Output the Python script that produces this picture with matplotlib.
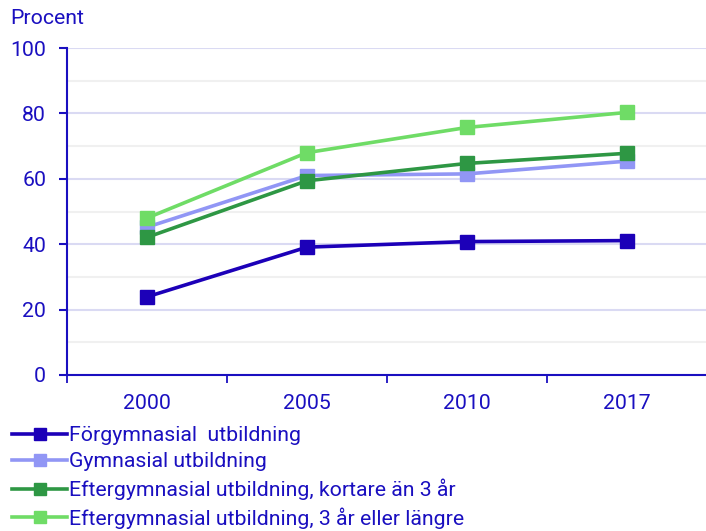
import matplotlib
matplotlib.use("Agg")
import matplotlib.pyplot as plt
from matplotlib.ticker import MultipleLocator, FixedLocator

plt.rcParams['font.family'] = ['Roboto', 'DejaVu Sans']

years = ["2000", "2005", "2010", "2017"]
forgymnasial = [23.9, 39.1, 40.8, 41.1]
gymnasial = [45.2, 61.0, 61.5, 65.4]
kortare = [42.1, 59.4, 64.7, 67.8]
langre = [48.0, 68.0, 75.7, 80.3]

series_names = ["Förgymnasial  utbildning", "Gymnasial utbildning",
                "Eftergymnasial utbildning, kortare än 3 år",
                "Eftergymnasial utbildning, 3 år eller längre"]
colors = ["#1c00b8", "#9196f5", "#2e9744", "#6fdc66"]
text_color = "#1a0fc0"
fs = 15.3

fig = plt.figure(figsize=(7.06, 5.31), dpi=100)
ax = fig.add_axes([67/706, 1-375/531, 640/706, (375-48)/531])

x = list(range(len(years)))
for vals, name, c in zip([forgymnasial, gymnasial, kortare, langre], series_names, colors):
    ax.plot(x, vals, color=c, lw=2.6, marker='s', markersize=10, label=name, zorder=3)

ax.set_xlim(-0.5, 3.5)
ax.set_ylim(0, 100)
ax.yaxis.set_major_locator(MultipleLocator(20))
ax.yaxis.set_minor_locator(MultipleLocator(10))
ax.grid(axis='y', which='major', color='#dadaf3', lw=1.5, zorder=0)
ax.grid(axis='y', which='minor', color='#f0f0f0', lw=1.5, zorder=0)
ax.set_xticks(x)
ax.set_xticklabels(years)
ax.xaxis.set_minor_locator(FixedLocator([-0.5, 0.5, 1.5, 2.5]))
ax.tick_params(axis='x', which='major', length=0, pad=14, labelsize=fs, labelcolor=text_color)
ax.tick_params(axis='x', which='minor', length=6, width=1.3, color=text_color, direction='out')
ax.tick_params(axis='y', which='major', length=6, width=1.5, color=text_color, labelsize=fs, labelcolor=text_color, pad=9)
ax.tick_params(axis='y', which='minor', length=0)
for s in ['top', 'right']:
    ax.spines[s].set_visible(False)
for s in ['left', 'bottom']:
    ax.spines[s].set_color(text_color)
    ax.spines[s].set_linewidth(1.5)
ax.set_axisbelow(True)

fig.text(10/706, 1-19/531, "Procent", color=text_color, fontsize=fs, va='center', ha='left')

leg = fig.legend(loc='upper left', bbox_to_anchor=(12/706, 1-426/531), frameon=False,
                 fontsize=fs, labelcolor=text_color, handlelength=2.6, handletextpad=0.1,
                 labelspacing=0.34, borderaxespad=0, borderpad=0, markerscale=0.8)

fig.savefig("out.png", dpi=100)
